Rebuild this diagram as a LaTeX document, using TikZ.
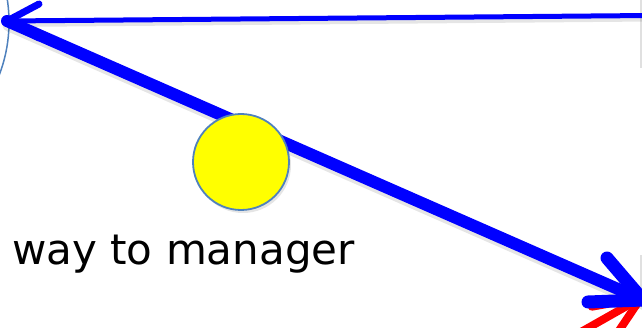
\documentclass[tikz,border=0pt]{standalone}
\usepackage{fontspec}
\setmainfont{DejaVu Sans}
\definecolor{pblue}{RGB}{0,0,255}
\definecolor{pyellow}{RGB}{255,255,0}
\definecolor{outl}{RGB}{79,129,189}
\definecolor{pred}{RGB}{255,0,0}
\begin{document}
\begin{tikzpicture}[x=1pt,y=-1pt,
  thinline/.style={pblue,line width=5pt},
  thickline/.style={pblue,line width=12pt,line cap=round},
  barb/.style={line cap=round,line width=#1},
  shade/.style={black,opacity=0.10,line cap=round},
  label/.style={font=\fontsize{42}{48}\selectfont,inner sep=0pt,anchor=base west,text=black},
  ball/.style={circle,draw=outl,line width=1.8pt,fill=pyellow,minimum size=96pt,inner sep=0pt}]
\useasboundingbox (0,0) rectangle (642,328);
\clip (0,0) rectangle (642,328);
% coordinates
\coordinate (topR) at (650,15.5);
\coordinate (tipL) at (7,21);
\coordinate (tipR) at (643,300);
\coordinate (redTip) at (641,298);
% left big circle edge
\draw[outl,line width=1.5pt] (-139,22) circle[radius=148];
% right edge shadows
\fill[black!12] (639.5,0) rectangle (642,68);
\fill[black!12] (639.5,255) rectangle (642,300);
% red arrow
\draw[pred,barb=8pt] (redTip) -- ++(150.5:80);
\draw[pred,barb=8pt] (redTip) -- ++(170:50);
\draw[pred,barb=8pt] (redTip) -- ++(124:50);
% top arrow shadow + line
\draw[shade,line width=6pt] ([shift={(2,3)}]topR) -- ([shift={(2,3)}]tipL);
\draw[thinline] (topR) -- (tipL);
\draw[pblue,barb=7pt] (tipL) -- ++(32,-17);
\draw[pblue,barb=7pt] (tipL) -- ++(32,17);
% diagonal shadow + line
\draw[shade,line width=13pt] ([shift={(2,4)}]tipL) -- ([shift={(2,4)}]tipR);
\draw[thickline] (tipL) -- (tipR);
\draw[pblue,barb=13pt] (tipR) -- (607,258);
\draw[pblue,barb=13pt] (tipR) -- (588,302);
% yellow ball
\fill[black,opacity=0.10] (243,165) circle[radius=48];
\node[ball] (ball) at (241,162) {};
% text
\node[label] (txt) at (12,265) {way to manager};
\end{tikzpicture}
\end{document}
